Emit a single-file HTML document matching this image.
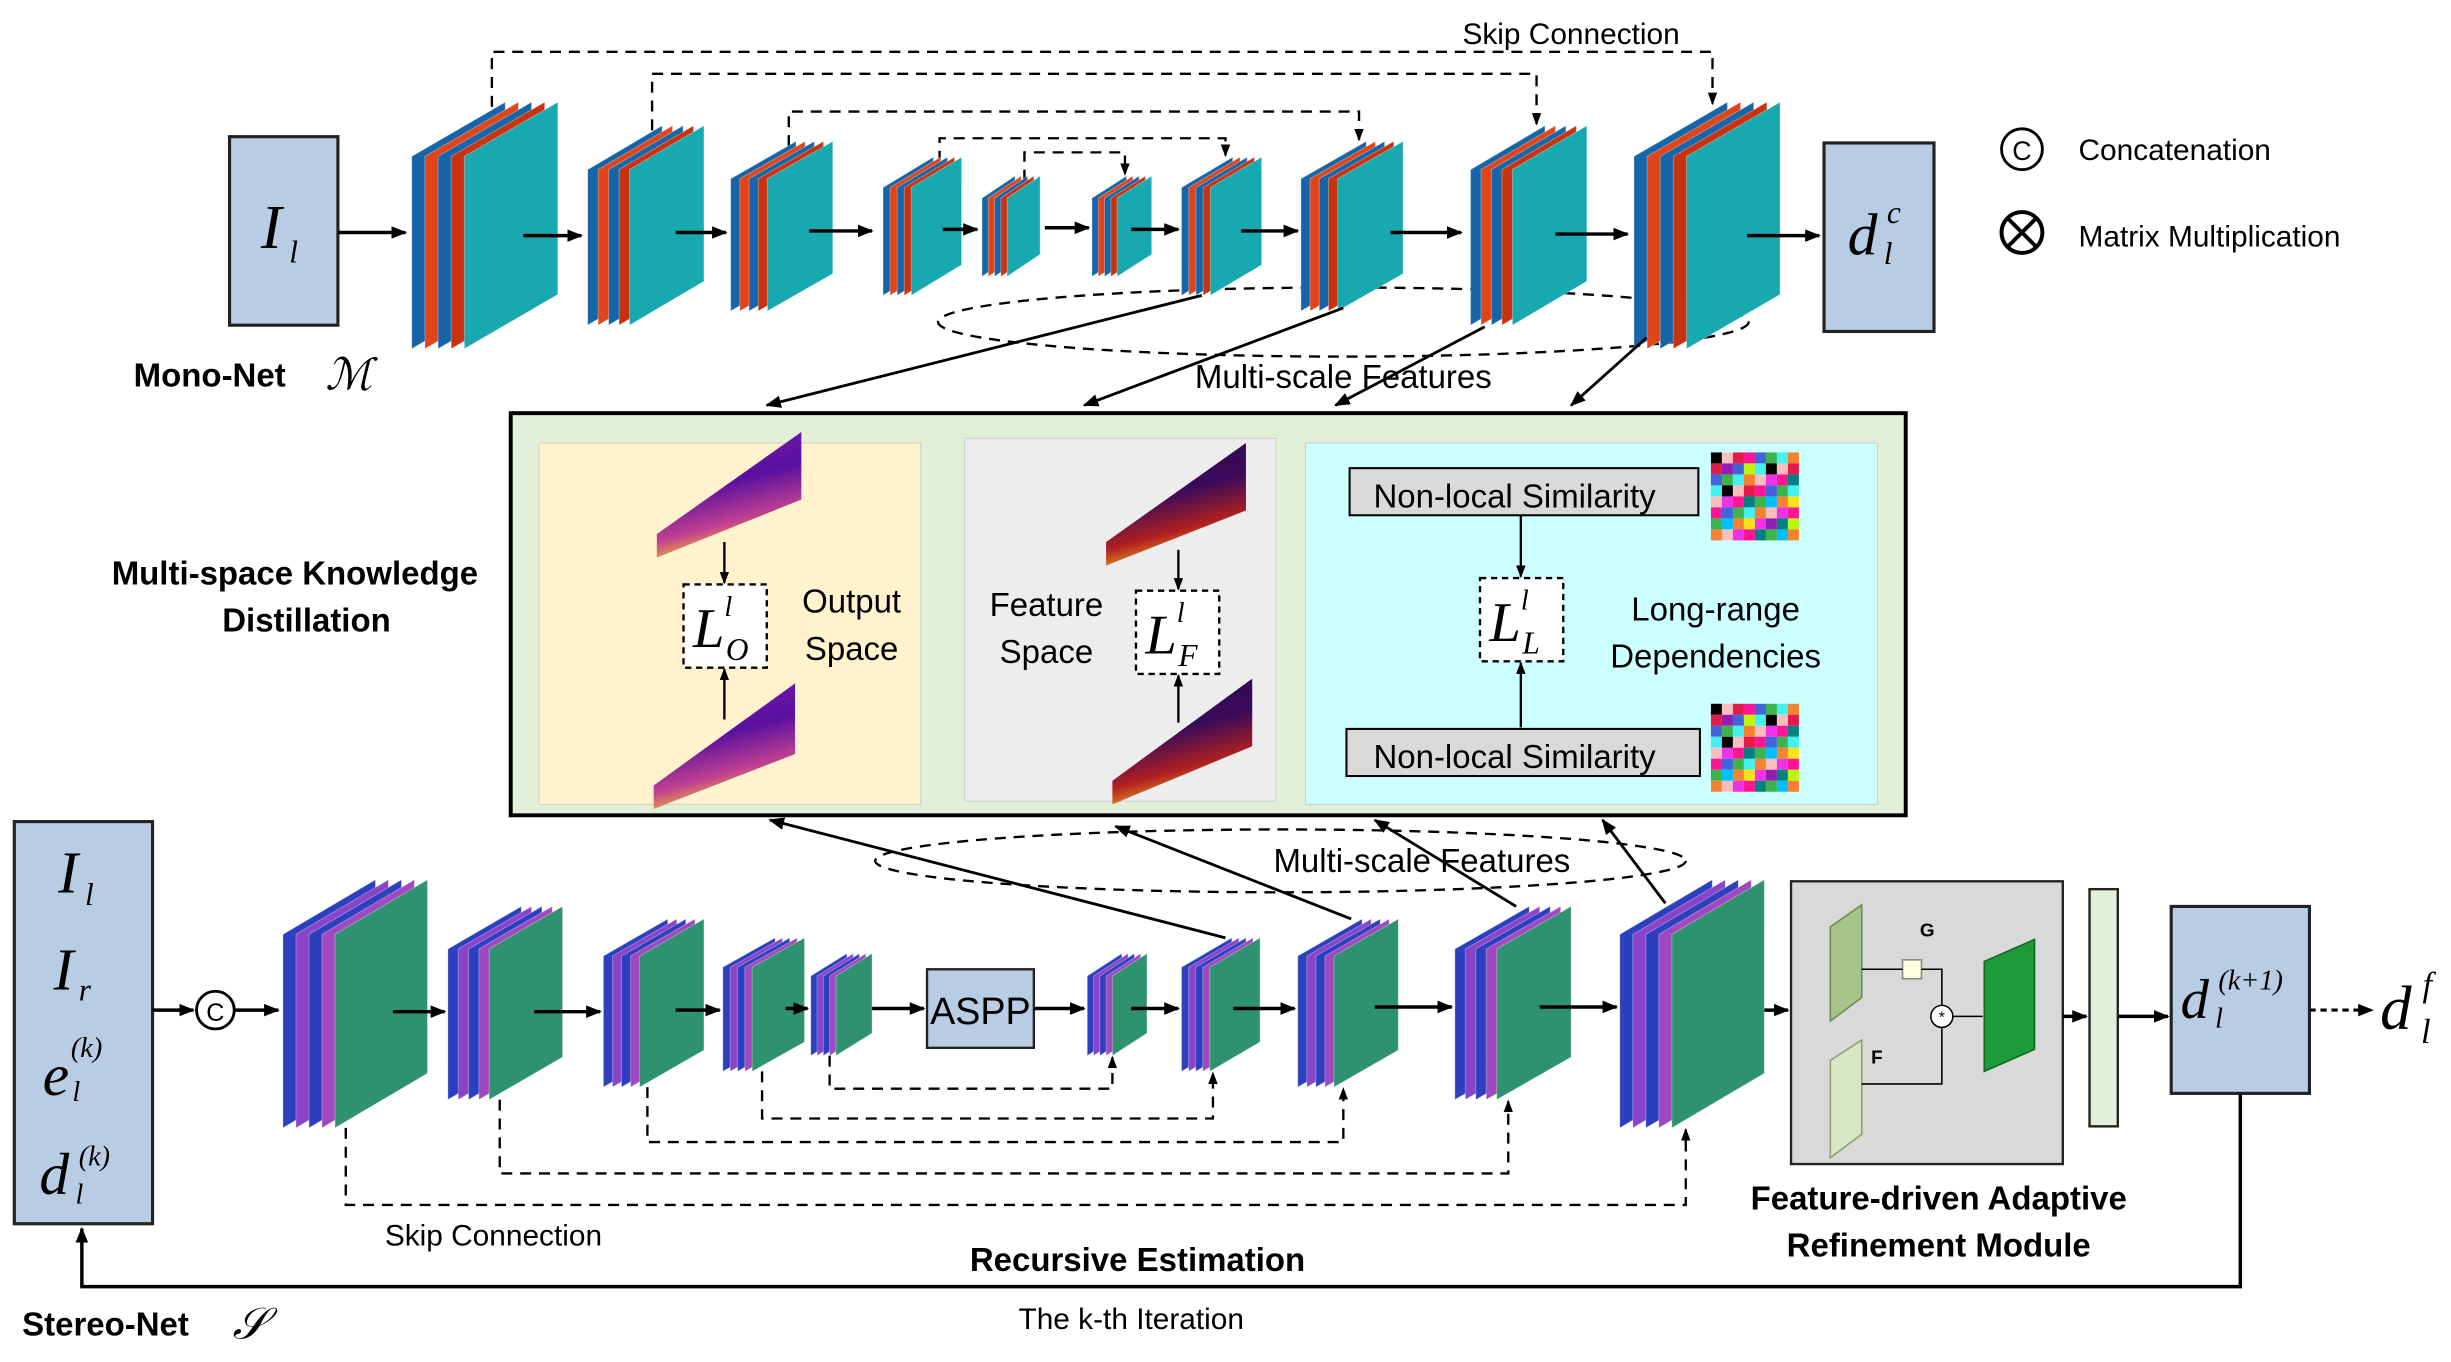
<!DOCTYPE html>
<html><head><meta charset="utf-8"><style>
html,body{margin:0;padding:0;background:#fff}
svg{display:block}
text{font-family:"Liberation Sans",sans-serif}
.m{font-family:"Liberation Serif",serif;font-style:italic}
</style></head><body>
<svg id="s" width="2451" height="1362" viewBox="0 0 1560 867" xmlns="http://www.w3.org/2000/svg">
<defs>
<marker id="a" markerWidth="10" markerHeight="10" refX="9" refY="5" orient="auto" markerUnits="userSpaceOnUse"><path d="M0,1 L10,5 L0,9 Z" fill="#000"/></marker>
<marker id="b" markerWidth="8" markerHeight="8" refX="7" refY="4" orient="auto" markerUnits="userSpaceOnUse"><path d="M0,1 L8,4 L0,7 Z" fill="#000"/></marker>
<linearGradient id="hp" x1="0" y1="0" x2="0.3" y2="1"><stop offset="0" stop-color="#7a1fa8"/><stop offset="0.5" stop-color="#5a10a0"/><stop offset="0.8" stop-color="#c04090"/><stop offset="1" stop-color="#f5c030"/></linearGradient>
<linearGradient id="hf" x1="0" y1="0" x2="0.3" y2="1"><stop offset="0" stop-color="#2a0a4a"/><stop offset="0.5" stop-color="#3a0a5a"/><stop offset="0.8" stop-color="#b02020"/><stop offset="1" stop-color="#f0a020"/></linearGradient>
</defs>
<g id="bg">
<!-- distillation box -->
<rect x="325" y="263" width="888" height="256" fill="#e2efd9" stroke="#000" stroke-width="2.5"/>
<rect x="343" y="282" width="243" height="230" fill="#fff2cc" stroke="#ccc" stroke-width="0.6"/>
<rect x="614" y="279" width="198" height="231" fill="#ededed" stroke="#ccc" stroke-width="0.6"/>
<rect x="831" y="282" width="364" height="230" fill="#ccffff" stroke="#ccc" stroke-width="0.6"/>
<!-- heatmaps -->
<polygon points="418,340 510,275 510,318 418,355" fill="url(#hp)"/>
<polygon points="416,500 506,435 506,480 416,515" fill="url(#hp)"/>
<polygon points="704,345 793,282 793,325 704,360" fill="url(#hf)"/>
<polygon points="708,497 797,432 797,475 708,512" fill="url(#hf)"/>
<!-- loss boxes -->
<rect x="435" y="372" width="53" height="53" fill="#fff" stroke="#000" stroke-width="1.5" stroke-dasharray="4,3"/>
<text class="m" x="441" y="412" font-size="36">L</text><text class="m" x="461" y="392" font-size="18">l</text><text class="m" x="462" y="420" font-size="20">O</text>
<rect x="723" y="376" width="53" height="53" fill="#fff" stroke="#000" stroke-width="1.5" stroke-dasharray="4,3"/>
<text class="m" x="729" y="416" font-size="36">L</text><text class="m" x="749" y="396" font-size="18">l</text><text class="m" x="750" y="424" font-size="20">F</text>
<rect x="942" y="368" width="53" height="53" fill="#fff" stroke="#000" stroke-width="1.5" stroke-dasharray="4,3"/>
<text class="m" x="948" y="408" font-size="36">L</text><text class="m" x="968" y="388" font-size="18">l</text><text class="m" x="969" y="416" font-size="20">L</text>
<line x1="461" y1="345" x2="461" y2="371" stroke="#000" stroke-width="1.5" marker-end="url(#b)"/>
<line x1="461" y1="458" x2="461" y2="426" stroke="#000" stroke-width="1.5" marker-end="url(#b)"/>
<line x1="750" y1="350" x2="750" y2="375" stroke="#000" stroke-width="1.5" marker-end="url(#b)"/>
<line x1="750" y1="460" x2="750" y2="430" stroke="#000" stroke-width="1.5" marker-end="url(#b)"/>
<line x1="968" y1="328" x2="968" y2="367" stroke="#000" stroke-width="1.5" marker-end="url(#b)"/>
<line x1="968" y1="463" x2="968" y2="422" stroke="#000" stroke-width="1.5" marker-end="url(#b)"/>
<text x="542" y="390" font-size="21" text-anchor="middle">Output</text>
<text x="542" y="420" font-size="21" text-anchor="middle">Space</text>
<text x="666" y="392" font-size="21" text-anchor="middle">Feature</text>
<text x="666" y="422" font-size="21" text-anchor="middle">Space</text>
<text x="1092" y="395" font-size="21" text-anchor="middle">Long-range</text>
<text x="1092" y="425" font-size="21" text-anchor="middle">Dependencies</text>
<rect x="859" y="298" width="222" height="30" fill="#d9d9d9" stroke="#000" stroke-width="1.3"/>
<text x="964" y="323" font-size="21" text-anchor="middle">Non-local Similarity</text>
<rect x="857" y="464" width="225" height="30" fill="#d9d9d9" stroke="#000" stroke-width="1.3"/>
<text x="964" y="489" font-size="21" text-anchor="middle">Non-local Similarity</text>
<g id="g1"></g><g id="g2"></g>

<!-- Mono-net -->
<rect x="146" y="87" width="69" height="120" fill="#b8cce4" stroke="#222" stroke-width="2"/>
<text class="m" x="166" y="158" font-size="40">I</text><text class="m" x="184" y="167" font-size="20">l</text>
<rect x="1161" y="91" width="70" height="120" fill="#b8cce4" stroke="#222" stroke-width="2"/>
<text class="m" x="1176" y="162" font-size="38">d</text><text class="m" x="1199" y="168" font-size="20">l</text><text class="m" x="1201" y="142" font-size="20">c</text>
<text x="85" y="246" font-size="21" font-weight="bold">Mono-Net</text><text class="m" x="207" y="248" font-size="28">ℳ</text>
<text x="71" y="372" font-size="21" font-weight="bold">Multi-space Knowledge</text>
<text x="195" y="402" font-size="21" font-weight="bold" text-anchor="middle">Distillation</text>
<circle cx="1287" cy="95" r="13" fill="#fff" stroke="#000" stroke-width="1.8"/><text x="1287" y="102" font-size="17" text-anchor="middle">C</text>
<text x="1323" y="102" font-size="19">Concatenation</text>
<circle cx="1287" cy="148" r="13" fill="#fff" stroke="#000" stroke-width="2.5"/><path d="M1278,139 L1296,157 M1296,139 L1278,157" stroke="#000" stroke-width="2.5"/>
<text x="1323" y="157" font-size="19">Matrix Multiplication</text>
<text x="1000" y="28" font-size="19" text-anchor="middle">Skip Connection</text>
<g fill="none" stroke="#000" stroke-width="1.5" stroke-dasharray="7,5">
<polyline points="313,68 313,33 1090,33 1090,66" marker-end="url(#b)"/>
<polyline points="415,83 415,47 978,47 978,79" marker-end="url(#b)"/>
<polyline points="502,93 502,71 865,71 865,89" marker-end="url(#b)"/>
<polyline points="598,103 598,88 780,88 780,99" marker-end="url(#b)"/>
<polyline points="652,115 652,97 716,97 716,111" marker-end="url(#b)"/>
<ellipse cx="855" cy="205" rx="258" ry="22"/>
<ellipse cx="815" cy="548" rx="258" ry="20"/>
<polyline points="528,672 528,693 708,693 708,673" marker-end="url(#b)"/>
<polyline points="485,682 485,712 772,712 772,683" marker-end="url(#b)"/>
<polyline points="412,692 412,727 855,727 855,693" marker-end="url(#b)"/>
<polyline points="318,700 318,747 960,747 960,701" marker-end="url(#b)"/>
<polyline points="220,718 220,767 1073,767 1073,719" marker-end="url(#b)"/>
</g>
<g id="blocks"></g>
<g stroke="#000" stroke-width="2.2" fill="none">
<line x1="215" y1="148" x2="258" y2="148" marker-end="url(#a)"/>
<line x1="333" y1="150" x2="370" y2="150" marker-end="url(#a)"/>
<line x1="430" y1="148" x2="462" y2="148" marker-end="url(#a)"/>
<line x1="515" y1="147" x2="555" y2="147" marker-end="url(#a)"/>
<line x1="600" y1="146" x2="622" y2="146" marker-end="url(#a)"/>
<line x1="665" y1="145" x2="693" y2="145" marker-end="url(#a)"/>
<line x1="720" y1="146" x2="750" y2="146" marker-end="url(#a)"/>
<line x1="790" y1="147" x2="826" y2="147" marker-end="url(#a)"/>
<line x1="885" y1="148" x2="930" y2="148" marker-end="url(#a)"/>
<line x1="990" y1="149" x2="1036" y2="149" marker-end="url(#a)"/>
<line x1="1112" y1="150" x2="1158" y2="150" marker-end="url(#a)"/>
</g>
<g stroke="#000" stroke-width="1.8" fill="none">
<line x1="765" y1="188" x2="488" y2="258" marker-end="url(#a)"/>
<line x1="855" y1="196" x2="690" y2="258" marker-end="url(#a)"/>
<line x1="945" y1="208" x2="850" y2="258" marker-end="url(#a)"/>
<line x1="1048" y1="215" x2="1000" y2="258" marker-end="url(#a)"/>
<line x1="780" y1="597" x2="490" y2="522" marker-end="url(#a)"/>
<line x1="860" y1="585" x2="710" y2="526" marker-end="url(#a)"/>
<line x1="965" y1="577" x2="875" y2="522" marker-end="url(#a)"/>
<line x1="1060" y1="575" x2="1020" y2="522" marker-end="url(#a)"/>
</g>
<text x="855" y="247" font-size="21" text-anchor="middle">Multi-scale Features</text>
<text x="905" y="555" font-size="21" text-anchor="middle">Multi-scale Features</text>

<!-- Stereo -->
<rect x="9" y="523" width="88" height="256" fill="#b8cce4" stroke="#222" stroke-width="2"/>
<text class="m" x="37" y="568" font-size="38">I</text><text class="m" x="54" y="576" font-size="20">l</text>
<text class="m" x="34" y="630" font-size="38">I</text><text class="m" x="50" y="637" font-size="20">r</text>
<text class="m" x="27" y="697" font-size="38">e</text><text class="m" x="46" y="701" font-size="18">l</text><text class="m" x="45" y="673" font-size="18">(k)</text>
<text class="m" x="25" y="760" font-size="38">d</text><text class="m" x="48" y="766" font-size="18">l</text><text class="m" x="50" y="742" font-size="18">(k)</text>
<circle cx="137" cy="643" r="12" fill="#fff" stroke="#000" stroke-width="1.8"/><text x="137" y="650" font-size="16" text-anchor="middle">C</text>
<rect x="590" y="617" width="68" height="50" fill="#b8cce4" stroke="#222" stroke-width="1.5"/>
<text x="624" y="652" font-size="24" text-anchor="middle">ASPP</text>
<rect x="1140" y="561" width="173" height="180" fill="#d9d9d9" stroke="#222" stroke-width="1.5"/>
<polygon points="1165,590 1185,576 1185,635 1165,650" fill="#a9c48a" stroke="#6a8a50"/>
<polygon points="1165,675 1185,662 1185,722 1165,737" fill="#d7e6c4" stroke="#8aa070"/>
<polygon points="1263,612 1295,598 1295,668 1263,682" fill="#1f9a3a" stroke="#0e6a20"/>
<rect x="1211" y="611" width="12" height="12" fill="#ffffe0" stroke="#888"/>
<circle cx="1236" cy="647" r="7" fill="#fff" stroke="#000"/><text x="1236" y="651" font-size="10" text-anchor="middle">*</text>
<text x="1222" y="596" font-size="12" font-weight="bold">G</text><text x="1191" y="677" font-size="12" font-weight="bold">F</text>
<g stroke="#000" stroke-width="1" fill="none"><path d="M1185,617 L1211,617 M1223,617 L1236,617 L1236,640 M1185,690 L1236,690 L1236,654 M1243,647 L1262,647"/></g>
<rect x="1330" y="566" width="18" height="151" fill="#e2efd9" stroke="#222" stroke-width="1.5"/>
<rect x="1382" y="577" width="88" height="119" fill="#b8cce4" stroke="#222" stroke-width="2"/>
<text class="m" x="1388" y="648" font-size="36">d</text><text class="m" x="1410" y="654" font-size="18">l</text><text class="m" x="1412" y="630" font-size="18">(k+1)</text>
<text class="m" x="1515" y="655" font-size="40">d</text><text class="m" x="1541" y="664" font-size="22">l</text><text class="m" x="1542" y="634" font-size="22">f</text>
<line x1="1470" y1="643" x2="1510" y2="643" stroke="#000" stroke-width="2" stroke-dasharray="4,3" marker-end="url(#a)"/>
<g stroke="#000" stroke-width="2.2" fill="none">
<line x1="97" y1="643" x2="123" y2="643" marker-end="url(#a)"/>
<line x1="149" y1="643" x2="177" y2="643" marker-end="url(#a)"/>
<line x1="250" y1="644" x2="283" y2="644" marker-end="url(#a)"/>
<line x1="340" y1="644" x2="382" y2="644" marker-end="url(#a)"/>
<line x1="430" y1="643" x2="458" y2="643" marker-end="url(#a)"/>
<line x1="500" y1="642" x2="514" y2="642" marker-end="url(#a)"/>
<line x1="555" y1="642" x2="588" y2="642" marker-end="url(#a)"/>
<line x1="658" y1="642" x2="690" y2="642" marker-end="url(#a)"/>
<line x1="720" y1="642" x2="750" y2="642" marker-end="url(#a)"/>
<line x1="785" y1="642" x2="824" y2="642" marker-end="url(#a)"/>
<line x1="875" y1="641" x2="924" y2="641" marker-end="url(#a)"/>
<line x1="980" y1="641" x2="1029" y2="641" marker-end="url(#a)"/>
<line x1="1123" y1="643" x2="1138" y2="643" marker-end="url(#a)"/>
<line x1="1313" y1="647" x2="1328" y2="647" marker-end="url(#a)"/>
<line x1="1348" y1="647" x2="1380" y2="647" marker-end="url(#a)"/>
<polyline points="1426,696 1426,819 52,819 52,782" marker-end="url(#a)"/>
</g>
<text x="1234" y="770" font-size="21" font-weight="bold" text-anchor="middle">Feature-driven Adaptive</text>
<text x="1234" y="800" font-size="21" font-weight="bold" text-anchor="middle">Refinement Module</text>
<text x="724" y="809" font-size="21" font-weight="bold" text-anchor="middle">Recursive Estimation</text>
<text x="720" y="846" font-size="19" text-anchor="middle">The k-th Iteration</text>
<text x="314" y="793" font-size="19" text-anchor="middle">Skip Connection</text>
<text x="14" y="850" font-size="21" font-weight="bold">Stereo-Net</text><text class="m" x="148" y="852" font-size="28">𝒮</text>
</g>
</svg>
<script>
var NS="http://www.w3.org/2000/svg";
function P(g,pts,fill,st){var p=document.createElementNS(NS,"polygon");p.setAttribute("points",pts);p.setAttribute("fill",fill);if(st){p.setAttribute("stroke",st);p.setAttribute("stroke-width","0.6");}g.appendChild(p);}
var G=document.getElementById("blocks");
function block(x0,x1,y0,y1,cols,main){
 var n=cols.length, step=Math.max(4,(x1-x0)*0.09), W=(x1-x0)-n*step, s=(y1-y0)*0.22;
 for(var i=0;i<=n;i++){var x=x0+i*step,w=(i==n?W:W);var c=i==n?main:cols[i];
  var yt=y0, yb=y1;
  P(G,[x,yt+s,x+w,yt,x+w,yb-s,x,yb].join(","),c,"#ffffff55");}
}
var mc=["#1565a8","#e0451a","#1565a8","#c8330f"],sc=["#2b3fbf","#8a44c8","#2b3fbf","#a048c0"];
var mono=[[262,355,65,222],[374,448,80,207],[465,530,90,198],[562,612,100,188],[625,662,112,176],[695,733,112,176],[752,803,100,188],[828,893,90,198],[936,1010,80,207],[1040,1133,65,222]];
mono.forEach(function(b){block(b[0],b[1],b[2],b[3],mc,"#17a8b0");});
var st=[[180,272,560,718],[285,358,577,700],[384,448,585,692],[460,512,597,682],[516,555,607,672],[692,730,607,672],[752,802,597,682],[826,890,585,692],[926,1000,577,700],[1031,1123,560,718]];
st.forEach(function(b){block(b[0],b[1],b[2],b[3],sc,"#2e9170");});
var pal=["#e6194b","#3cb44b","#ffe119","#4363d8","#f58231","#911eb4","#46f0f0","#f032e6","#bcf60c","#fabebe","#008080","#000000","#ff1493","#00bfff"];
function grid(id,x,y){var g=document.getElementById(id),k=0;for(var i=0;i<8;i++)for(var j=0;j<8;j++){k=(k*7+i*3+j*5+11)%pal.length;var r=document.createElementNS(NS,"rect");r.setAttribute("x",x+j*7);r.setAttribute("y",y+i*7);r.setAttribute("width",7);r.setAttribute("height",7);r.setAttribute("fill",pal[k]);g.appendChild(r);}}
grid("g1",1089,288);grid("g2",1089,448);
</script>
</body></html>
